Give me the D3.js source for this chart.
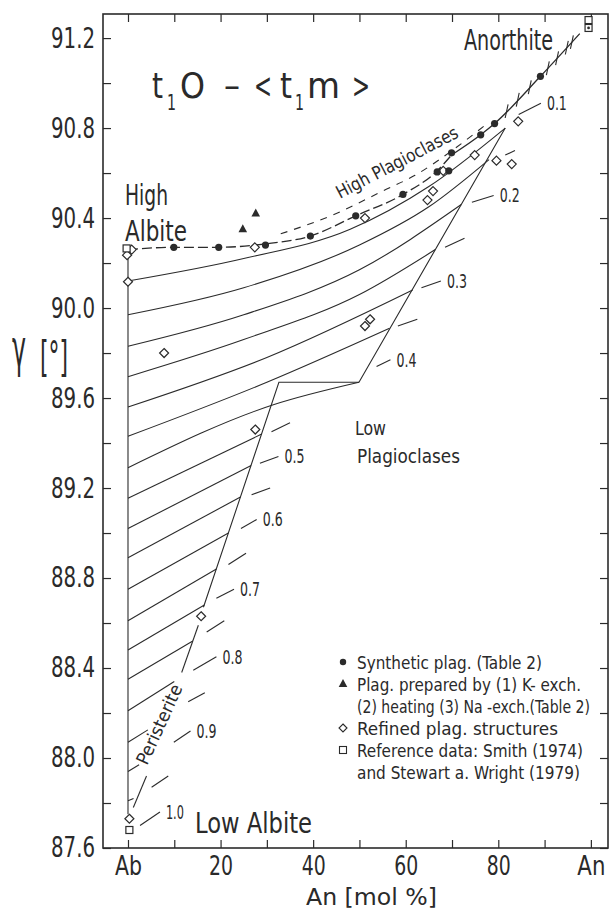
<!DOCTYPE html>
<html><head><meta charset="utf-8">
<script src="https://cdn.jsdelivr.net/npm/d3@7"></script>
<style>
body{margin:0;background:#fff;}
svg text{font-family:'DejaVu Sans Condensed','Liberation Sans Narrow','DejaVu Sans',sans-serif;font-stretch:condensed;fill:#2a2a2a;}
</style></head><body>
<svg id="chart" width="612" height="910"></svg>
<script>
// ---------- data ----------
const xTicks = [0,10,20,30,40,50,60,70,80,90,100];
const xTickNames = ["Ab","","20","","40","","60","","80","","An"];
const yTicks = [87.6,87.8,88.0,88.2,88.4,88.6,88.8,89.0,89.2,89.4,89.6,89.8,90.0,90.2,90.4,90.6,90.8,91.0,91.2];
const yTickLabels = ["87.6","88.0","88.4","88.8","89.2","89.6","90.0","90.4","90.8","91.2"];

// high plagioclase curve (through synthetic points)
const highCurve = [[0,90.26],[9.9,90.27],[19.6,90.27],[29.7,90.285],[39.4,90.32],[49.2,90.41],[59.4,90.505],[66.8,90.61],[69.9,90.68],[76.2,90.77],[79.2,90.82],[89.1,91.03],[97.6,91.22]];
const highDashedUntil = 69.9;
const anorthiteCrossX = [81.8,84.2,86.8,90.7,92.7,94.8,95.9];
const highPlagGuide = [[33,90.33],[45,90.42],[55,90.52],[62,90.59],[70,90.70],[77,90.81]];

const synthetic = [[9.9,90.27],[19.6,90.27],[29.7,90.28],[39.4,90.32],[49.2,90.41],[59.4,90.505],[66.8,90.605],[69.3,90.61],[69.9,90.69],[76.2,90.77],[79.2,90.82],[89.1,91.03]];
const prepared = [[24.8,90.35],[27.6,90.42]];
const refined = [[0.8,90.26],[-0.2,90.235],[0,90.117],[7.8,89.80],[27.4,90.27],[51.2,90.40],[64.7,90.48],[65.9,90.52],[68.1,90.61],[74.9,90.68],[79.6,90.655],[82.9,90.64],[84.3,90.83],[51.2,89.92],[52.3,89.95],[27.5,89.46],[15.8,88.63],[0.3,87.73]];
const reference = [[-0.3,90.265],[0.3,87.68],[99.5,91.28],[99.5,91.245]];
const anorthiteDot = [[99.5,91.245]];

const abLine = [[0,90.26],[0,87.75]];
const boundaryUpper = [[81.5,90.80],[49.9,89.67],[32.6,89.67],[16.3,88.67]];
const boundaryLower = [[15.2,88.59],[11.6,88.38]];
const peristeriteLine = [[1.15,87.78],[4.0,87.92]];

const contourValues = ["0.1","0.15","0.2","0.25","0.3","0.35","0.4","0.45","0.5","0.55","0.6","0.65","0.7","0.75","0.8","0.85","0.9","0.95","1.0"];
const contourSolid = [
  [[0,90.12],[25,90.22],[48,90.35],[65,90.54],[81.5,90.80]],
  [[0,89.97],[25,90.09],[50,90.28],[65,90.45],[78,90.66]],
  [[0,89.83],[25,89.97],[50,90.17],[72,90.46]],
  [[0,89.695],[25,89.86],[50,90.06],[66.4,90.26]],
  [[0,89.56],[30,89.78],[61.5,90.08]],
  [[0,89.43],[30,89.67],[56.5,89.91]],
  [[0,89.29],[31.4,89.57],[49.9,89.67]],
  [[0,89.155],[28.9,89.44]],
  [[0,89.02],[26.6,89.30]],
  [[0,88.89],[24.3,89.16]],
  [[0,88.75],[21.7,89.0]],
  [[0,88.61],[19.1,88.84]],
  [[0,88.48],[16.5,88.68]],
  [[0,88.35],[14,88.52]],
  [[0,88.21],[10,88.34]],
  [[0,88.07],[4.3,88.125]],
  [[0,87.94],[2.4,87.97]],
  [[0,87.81],[1.2,87.82]],
  []
];
const contourDash = [
  [84.4,90.86,89.2,90.91],[81.5,90.68,83.6,90.70],[74.3,90.47,79,90.50],[68.5,90.27,72.7,90.31],
  [63.4,90.09,67.6,90.12],[58.3,89.92,62.5,89.95],[53.7,89.74,56.7,89.77],[31,89.45,35,89.49],
  [28.5,89.31,32.5,89.34],[26.7,89.17,30.7,89.20],[24.4,89.02,27.8,89.06],[21.7,88.86,25.5,88.91],
  [19.1,88.71,22.9,88.75],[17,88.56,20.8,88.61],[14.1,88.39,19.1,88.45],[13,88.25,16.6,88.29],
  [9.9,88.07,13.5,88.12],[5.1,87.87,8.7,87.92],[2.6,87.70,6.9,87.76]
];
const labelledContours = ["0.1","0.2","0.3","0.4","0.5","0.6","0.7","0.8","0.9","1.0"];

const legendItems = [
  {sym:"circle", text:"Synthetic plag. (Table 2)", w:185},
  {sym:"triangle", text:"Plag. prepared by (1) K- exch.", w:224},
  {sym:"", text:"(2) heating (3) Na -exch.(Table 2)", w:233},
  {sym:"diamond", text:"Refined plag. structures", w:201},
  {sym:"square", text:"Reference data: Smith (1974)", w:226},
  {sym:"", text:"and Stewart a. Wright (1979)", w:223}
];

// ---------- drawing ----------
const ink = "#2b2b2b";
const svg = d3.select("#chart");
svg.append("rect").attr("width",612).attr("height",910).attr("fill","#fff");
const x = d3.scaleLinear().domain([-5.4,103.7]).range([103,608]);
const y = d3.scaleLinear().domain([87.6,91.307]).range([848,14]);

function txt(px,py,str,size,width){
  const t = svg.append("text").attr("x",px).attr("y",py).attr("font-size",size).text(str);
  if(width) t.attr("textLength",width).attr("lengthAdjust","spacingAndGlyphs");
  return t;
}

// axes
function styleAxis(g,fs,widths){
  g.select(".domain").remove();
  g.selectAll("line").attr("stroke",ink).attr("stroke-width",1.2);
  g.selectAll("text").attr("font-size",fs).attr("fill",ink)
   .each(function(){ const s=this.textContent; if(s && widths){ d3.select(this).attr("textLength",widths(s)).attr("lengthAdjust","spacingAndGlyphs"); } });
}
svg.append("g").attr("transform","translate(0,848)")
  .call(d3.axisBottom(x).tickValues(xTicks).tickSizeInner(-8).tickSizeOuter(0).tickPadding(8)
  .tickFormat((d,i)=>xTickNames[i])).call(g=>styleAxis(g,27,s=>s==="An"?28:(s==="Ab"?27:24)));
svg.append("g").attr("transform","translate(0,14)")
  .call(d3.axisTop(x).tickValues(xTicks).tickSizeInner(-8).tickSizeOuter(0).tickFormat(""))
  .call(g=>styleAxis(g,10));
svg.append("g").attr("transform","translate(103,0)")
  .call(d3.axisLeft(y).tickValues(yTicks).tickSizeInner(-8).tickSizeOuter(0).tickPadding(8)
  .tickFormat(d=>yTickLabels.includes(d.toFixed(1))?d.toFixed(1):"")).call(g=>styleAxis(g,28,s=>44));
svg.append("g").attr("transform","translate(608,0)")
  .call(d3.axisRight(y).tickValues(yTicks).tickSizeInner(-8).tickSizeOuter(0).tickFormat(""))
  .call(g=>styleAxis(g,10));
svg.append("rect").attr("x",103).attr("y",14).attr("width",505).attr("height",834)
  .attr("fill","none").attr("stroke",ink).attr("stroke-width",1.6);

const line = d3.line().x(d=>x(d[0])).y(d=>y(d[1]));
const smooth = d3.line().x(d=>x(d[0])).y(d=>y(d[1])).curve(d3.curveMonotoneX);
const plot = svg.append("g").attr("fill","none").attr("stroke",ink).attr("stroke-width",1.1);

// contours
contourSolid.forEach(pts=>{ if(pts.length) plot.append("path").attr("d",smooth(pts)); });
contourDash.forEach(d=>{
  plot.append("line").attr("x1",x(d[0])).attr("y1",y(d[1])).attr("x2",x(d[2])).attr("y2",y(d[3]));
});
contourDash.forEach((d,i)=>{
  if(labelledContours.includes(contourValues[i])){
    txt(x(d[2])+6, y(d[3]), contourValues[i], 19, contourValues[i]==="1.0"?18:20).attr("dy","0.36em");
  }
});
// boundaries
plot.append("path").attr("d",line(abLine));
plot.append("path").attr("d",line(boundaryUpper));
plot.append("path").attr("d",line(boundaryLower));
plot.append("path").attr("d",line(peristeriteLine));

// high plagioclase curve
const dashedPart = highCurve.filter(d=>d[0]<=highDashedUntil);
const solidPart = highCurve.filter(d=>d[0]>=highDashedUntil);
plot.append("path").attr("d",smooth(dashedPart)).attr("stroke-dasharray","10,4").attr("stroke-width",1.3);
plot.append("path").attr("d",smooth(solidPart)).attr("stroke-width",1.3);
plot.append("path").attr("d",smooth(highPlagGuide)).attr("stroke-dasharray","7,7");
const interpY = d3.scaleLinear().domain(highCurve.map(d=>d[0])).range(highCurve.map(d=>d[1]));
anorthiteCrossX.forEach(v=>{
  const cx = x(v), cy = y(interpY(v)), a = -78*Math.PI/180, L = 7;
  plot.append("line").attr("x1",cx-L*Math.cos(a)).attr("y1",cy-L*Math.sin(a))
    .attr("x2",cx+L*Math.cos(a)).attr("y2",cy+L*Math.sin(a));
});

// markers
const diamondPath = "M0,-4.5L4.5,0L0,4.5L-4.5,0Z";
const trianglePath = "M0,-5L4.3,3L-4.3,3Z";
svg.append("g").selectAll("path").data(refined).join("path")
  .attr("d",diamondPath).attr("transform",d=>`translate(${x(d[0])},${y(d[1])})`)
  .attr("fill","#fff").attr("stroke",ink).attr("stroke-width",1.2);
svg.append("g").selectAll("rect").data(reference).join("rect")
  .attr("x",d=>x(d[0])-3.5).attr("y",d=>y(d[1])-3.5).attr("width",7).attr("height",7)
  .attr("fill","#fff").attr("stroke",ink).attr("stroke-width",1.2);
svg.append("g").selectAll("circle").data(synthetic).join("circle")
  .attr("cx",d=>x(d[0])).attr("cy",d=>y(d[1])).attr("r",3.6).attr("fill",ink);
svg.append("g").selectAll("circle").data(anorthiteDot).join("circle")
  .attr("cx",d=>x(d[0])).attr("cy",d=>y(d[1])).attr("r",1.4).attr("fill",ink);
svg.append("g").selectAll("path").data(prepared).join("path")
  .attr("d",trianglePath).attr("transform",d=>`translate(${x(d[0])},${y(d[1])})`).attr("fill",ink);

// texts
const title = svg.append("text").attr("y",98);
[["t",152,0,11],["1",167,1,9],["O",180,0,25],["–",224,0,16],["<",254,0,18],["t",280,0,12],["1",295,1,9],["m",307,0,33],[">",352,0,18]]
  .forEach(p=>title.append("tspan").attr("x",p[1]).attr("y",p[2]?110:98).attr("font-size",p[2]?22:36)
    .attr("textLength",p[3]).attr("lengthAdjust","spacingAndGlyphs").text(p[0]));

txt(464,50,"Anorthite",28,89);
txt(125,205,"High",28,43);
txt(125,241,"Albite",28,62);
txt(195,833,"Low Albite",28,117);
txt(355,435,"Low",20,31);
txt(357,463,"Plagioclases",20,103);
txt(306,905,"An [mol %]",23,131);
txt(12,366,"γ",52,14);
txt(40,372,"[°]",42,28);
svg.append("text").attr("transform","translate(340,199) rotate(-27.5)").attr("font-size",18)
  .attr("textLength",135).attr("lengthAdjust","spacingAndGlyphs").text("High Plagioclases");
svg.append("text").attr("transform","translate(165,727) rotate(-65.4)").attr("font-size",18)
  .attr("text-anchor","middle").attr("textLength",86).attr("lengthAdjust","spacingAndGlyphs").text("Peristerite");

// legend
const lg = svg.append("g");
legendItems.forEach((it,i)=>{
  const cy = 662 + i*22;
  if(it.sym==="circle") lg.append("circle").attr("cx",343).attr("cy",cy).attr("r",3.2).attr("fill",ink);
  if(it.sym==="triangle") lg.append("path").attr("d",trianglePath).attr("transform",`translate(343,${cy})`).attr("fill",ink);
  if(it.sym==="diamond") lg.append("path").attr("d","M0,-4L4,0L0,4L-4,0Z").attr("transform",`translate(343,${cy})`)
     .attr("fill","#fff").attr("stroke",ink).attr("stroke-width",1.1);
  if(it.sym==="square") lg.append("rect").attr("x",339.5).attr("y",cy-3.5).attr("width",7).attr("height",7)
     .attr("fill","#fff").attr("stroke",ink).attr("stroke-width",1.1);
  txt(357,cy+7,it.text,18,it.w);
});
</script></body></html>
